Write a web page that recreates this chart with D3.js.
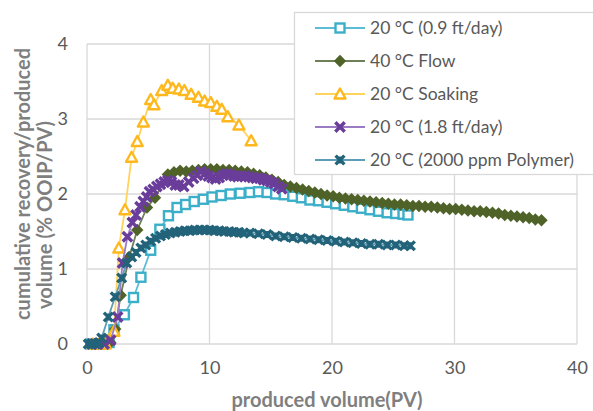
<!DOCTYPE html>
<html><head><meta charset="utf-8">
<script src="https://cdn.jsdelivr.net/npm/d3@7"></script>
<style>html,body{margin:0;padding:0;background:#fff;}svg{display:block;}</style>
</head><body>
<svg id="chart" width="593" height="411"></svg>
<script>
// ---- data ----
const seriesNames = ["20 °C (0.9 ft/day)", "40 °C Flow", "20 °C Soaking", "20 °C (1.8 ft/day)", "20 °C (2000 ppm Polymer)"];
const xTicks = [0, 10, 20, 30, 40];
const yTicks = [0, 1, 2, 3, 4];

const blueX = [0.3,0.8,1.3,1.8,2.2,3.05,3.8,4.4,5.2,5.95,6.65,7.35,8.05,8.75,9.5,10.2,10.95,11.7,12.5,13.3,14.0,14.7,15.4,16.1,16.8,17.5,18.2,18.9,19.6,20.3,21.0,21.7,22.4,23.1,23.8,24.5,25.2,25.8,26.2];
const blueY = [0,0,0,0.02,0.19,0.39,0.62,0.89,1.25,1.53,1.71,1.82,1.86,1.90,1.93,1.96,1.98,2.0,2.01,2.02,2.03,2.02,2.0,1.99,1.97,1.95,1.92,1.91,1.89,1.87,1.85,1.83,1.81,1.79,1.77,1.75,1.74,1.73,1.72];

const flowX = [0.4,0.9,1.4,1.9,2.3,2.75,3.45,4.1,4.9,5.55,6.6,7.1,7.6,8.1,8.6,9.1,9.6,10.1,10.6,11.1,11.6,12.1,12.6,13.1,13.6,14.1,14.6,15.1,15.6,16.1,16.6,17.1,17.6,18.1,18.6,19.1,19.6,20.1,20.6,21.1,21.6,22.1,22.6,23.1,23.6,24.1,24.6,25.1,25.6,26.1,26.6,27.1,27.6,28.1,28.6,29.1,29.6,30.1,30.6,31.1,31.6,32.1,32.6,33.1,33.6,34.1,34.6,35.1,35.6,36.1,36.6,37.1];
const flowY = [0,0,0,0.02,0.2,0.65,1.16,1.52,1.82,1.95,2.26,2.29,2.31,2.30,2.31,2.32,2.33,2.33,2.33,2.32,2.32,2.31,2.30,2.29,2.27,2.25,2.22,2.19,2.16,2.12,2.10,2.08,2.06,2.04,2.02,2.00,1.98,1.97,1.95,1.94,1.93,1.92,1.91,1.90,1.89,1.88,1.87,1.86,1.86,1.85,1.84,1.84,1.83,1.83,1.82,1.81,1.80,1.80,1.79,1.78,1.77,1.77,1.76,1.75,1.74,1.72,1.71,1.70,1.69,1.68,1.66,1.65];

const soakX = [0.5,1.0,1.5,2.2,2.6,3.1,3.64,4.1,4.6,5.2,5.47,6.1,6.6,7.0,7.5,7.95,8.5,9.1,9.6,10.1,10.6,11.0,11.5,12.4,13.4];
const soakY = [0,0,0,0.17,1.28,1.79,2.49,2.70,2.96,3.26,3.19,3.38,3.45,3.41,3.40,3.38,3.33,3.29,3.24,3.22,3.17,3.13,3.03,2.92,2.71];

const fastX = [0.4,0.9,1.4,1.93,2.5,2.9,3.3,3.7,4.0,4.33,4.6,4.87,5.1,5.4,5.7,6.0,6.3,6.6,6.9,7.2,7.5,7.9,8.3,8.7,9.0,9.3,9.6,9.9,10.2,10.5,10.8,11.1,11.4,11.7,12.0,12.3,12.6,12.9,13.2,13.5,13.8,14.1,14.4,14.7,15.0,15.3,15.6,15.9];
const fastY = [0,0,0,0.05,0.36,1.08,1.43,1.62,1.72,1.83,1.90,1.96,2.03,2.06,2.10,2.13,2.16,2.18,2.16,2.12,2.12,2.10,2.16,2.21,2.25,2.30,2.27,2.24,2.22,2.20,2.22,2.25,2.27,2.26,2.24,2.23,2.24,2.24,2.23,2.22,2.21,2.21,2.19,2.18,2.16,2.14,2.10,2.07];

const polyX = [0.1,0.4,0.7,1.0,1.2,1.74,2.3,2.83,3.24,3.65,4.0,4.4,4.8,5.2,5.6,6.0,6.4,6.8,7.2,7.6,8.0,8.4,8.8,9.2,9.6,10.0,10.4,10.8,11.2,11.6,12.0,12.4,12.8,13.3,14.0,14.7,15.4,16.1,16.8,17.5,18.2,18.9,19.6,20.3,21.0,21.7,22.4,23.1,23.8,24.5,25.2,25.9,26.4];
const polyY = [0,0,0,0.02,0.08,0.36,0.63,0.88,1.08,1.16,1.22,1.28,1.32,1.37,1.41,1.44,1.46,1.48,1.49,1.50,1.51,1.51,1.52,1.52,1.52,1.52,1.51,1.51,1.50,1.50,1.49,1.49,1.48,1.48,1.47,1.46,1.44,1.43,1.42,1.41,1.40,1.39,1.38,1.37,1.36,1.35,1.34,1.33,1.33,1.32,1.32,1.31,1.31];

const xLabel = "produced volume(PV)";
const yLabel = ["cumulative recovery/produced", "volume (% OOIP/PV)"];

// ---- styles ----
const FONT = "Lato, 'Open Sans', sans-serif";
const series = [
  {name: seriesNames[0], xs: blueX, ys: blueY, marker: "square", color: "#3bafc9", line: "#5bbcd3"},
  {name: seriesNames[1], xs: flowX, ys: flowY, marker: "diamond", color: "#4f6228", line: "#6e8058"},
  {name: seriesNames[2], xs: soakX, ys: soakY, marker: "triangle", color: "#ffb81c", line: "#ffd35c"},
  {name: seriesNames[3], xs: fastX, ys: fastY, marker: "x", color: "#6a3d9a", line: "#9b7cc4"},
  {name: seriesNames[4], xs: polyX, ys: polyY, marker: "star", color: "#23637a", line: "#5a9db5"}
];

const svg = d3.select("#chart");
const x = d3.scaleLinear().domain([0, 40]).range([87, 577]);
const y = d3.scaleLinear().domain([0, 4]).range([344, 44]);

// gridlines
svg.append("g").selectAll("line").data(yTicks).join("line")
  .attr("x1", x(0)).attr("x2", x(40)).attr("y1", d => y(d)).attr("y2", d => y(d))
  .attr("stroke", "#d9d9d9").attr("stroke-width", 1.3);
svg.append("g").selectAll("line").data(xTicks).join("line")
  .attr("y1", y(0)).attr("y2", y(4)).attr("x1", d => x(d)).attr("x2", d => x(d))
  .attr("stroke", "#d9d9d9").attr("stroke-width", 1.3);

// axes (labels only)
const xAxis = d3.axisBottom(x).tickValues(xTicks).tickFormat(d3.format("d")).tickSize(0).tickPadding(17);
const gx = svg.append("g").attr("transform", `translate(0,${y(0)})`).call(xAxis);
gx.select(".domain").remove();
gx.selectAll("text").attr("font-family", FONT).attr("font-size", 18).attr("fill", "#595959");
const yAxis = d3.axisLeft(y).tickValues(yTicks).tickFormat(d3.format("d")).tickSize(0).tickPadding(19);
const gy = svg.append("g").attr("transform", `translate(${x(0)},0)`).call(yAxis);
gy.select(".domain").remove();
gy.selectAll("text").attr("font-family", FONT).attr("font-size", 18).attr("fill", "#595959");

// axis titles
svg.append("text").attr("x", 327).attr("y", 407).attr("text-anchor", "middle")
  .attr("font-family", FONT).attr("font-weight", "bold").attr("font-size", 20).attr("fill", "#7f7f7f")
  .text(xLabel);
svg.append("text").attr("transform", "translate(30,184) rotate(-90)")
  .attr("text-anchor", "middle").attr("font-family", FONT).attr("font-weight", "bold")
  .attr("font-size", 20).attr("fill", "#7f7f7f").text(yLabel[0]);
svg.append("text").attr("transform", "translate(52,215) rotate(-90)")
  .attr("text-anchor", "middle").attr("font-family", FONT).attr("font-weight", "bold")
  .attr("font-size", 20).attr("fill", "#7f7f7f").text(yLabel[1]);

// marker drawing
function drawMarker(g, type, color, size) {
  const s = size;
  if (type === "square") {
    g.append("rect").attr("x", -s*0.45).attr("y", -s*0.45).attr("width", s*0.9).attr("height", s*0.9)
      .attr("fill", "#fff").attr("stroke", color).attr("stroke-width", 2.4);
  } else if (type === "diamond") {
    g.append("path").attr("d", `M0,${-s*0.62}L${s*0.62},0L0,${s*0.62}L${-s*0.62},0Z`).attr("fill", color);
  } else if (type === "triangle") {
    g.append("path").attr("d", `M0,${-s*0.55}L${s*0.55},${s*0.45}L${-s*0.55},${s*0.45}Z`)
      .attr("fill", "#fff").attr("stroke", color).attr("stroke-width", 2.4).attr("stroke-linejoin", "round");
  } else if (type === "x") {
    const h = s*0.47;
    g.append("path").attr("d", `M${-h},${-h}L${h},${h}M${-h},${h}L${h},${-h}`)
      .attr("stroke", color).attr("stroke-width", 3.4).attr("fill", "none");
  } else if (type === "star") {
    const h = s*0.44;
    g.append("path").attr("d", `M${-h},${-h}L${h},${h}M${-h},${h}L${h},${-h}M0,${-h*0.8}L0,${h*0.8}`)
      .attr("stroke", color).attr("stroke-width", 3.4).attr("fill", "none");
  }
}

const lineGen = d3.line().x(d => x(d[0])).y(d => y(d[1]));
series.forEach(s => {
  const pts = s.xs.map((v, i) => [v, s.ys[i]]);
  const g = svg.append("g");
  g.append("path").datum(pts).attr("d", lineGen).attr("fill", "none")
    .attr("stroke", s.line).attr("stroke-width", 1.8);
  g.selectAll("g.m").data(pts).join("g").attr("class", "m")
    .attr("transform", d => `translate(${x(d[0])},${y(d[1])})`)
    .each(function() { drawMarker(d3.select(this), s.marker, s.color, 10); });
});

// legend
const lg = svg.append("g");
lg.append("rect").attr("x", 294.5).attr("y", 12.5).attr("width", 310).attr("height", 162)
  .attr("fill", "#fff").attr("stroke", "#d9d9d9").attr("stroke-width", 1.3);
series.forEach((s, i) => {
  const cy = 28 + i * 33;
  const row = lg.append("g");
  row.append("line").attr("x1", 315).attr("x2", 365).attr("y1", cy).attr("y2", cy)
    .attr("stroke", s.line).attr("stroke-width", 1.8);
  drawMarker(row.append("g").attr("transform", `translate(340,${cy})`), s.marker, s.color, 10);
  row.append("text").attr("x", 370).attr("y", cy).attr("dy", "0.35em")
    .attr("font-family", FONT).attr("font-size", 17.5).attr("fill", "#595959").text(s.name);
});
</script>
</body></html>
